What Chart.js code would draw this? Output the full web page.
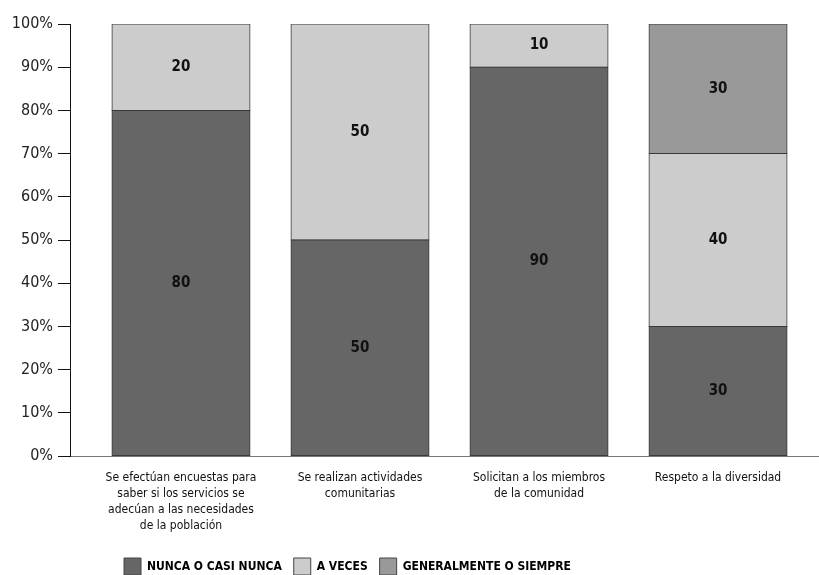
<!DOCTYPE html>
<html>
<head>
<meta charset="utf-8">
<script src="https://cdn.jsdelivr.net/npm/chart.js@4/dist/chart.umd.min.js"></script>
<style>
  html, body { margin: 0; padding: 0; background: #fff; }
  #wrap { position: relative; width: 819px; height: 575px; }
</style>
</head>
<body>
<div id="wrap"><canvas id="chart"></canvas></div>
<script>
// categories (multi-line labels as they appear under each bar)
const categories = [
  ['Se efectúan encuestas para', 'saber si los servicios se', 'adecúan a las necesidades', 'de la población'],
  ['Se realizan actividades', 'comunitarias'],
  ['Solicitan a los miembros', 'de la comunidad'],
  ['Respeto a la diversidad']
];

// series values (%)
const nuncaValues = [80, 50, 90, 30];
const aVecesValues = [20, 50, 10, 40];
const generalmenteValues = [0, 0, 0, 30];

const seriesNames = ['NUNCA O CASI NUNCA', 'A VECES', 'GENERALMENTE O SIEMPRE'];
const yTicks = [0, 10, 20, 30, 40, 50, 60, 70, 80, 90, 100];

const FONT = "'DejaVu Sans Condensed', 'Liberation Sans Narrow', sans-serif";

function toPoints(arr) {
  return arr.map((v, i) => ({ x: i, y: v }));
}

// draws the value in the middle of every segment
const segmentLabels = {
  id: 'segmentLabels',
  afterDatasetsDraw(chart) {
    const ctx = chart.ctx;
    ctx.save();
    ctx.font = 'bold 15px ' + FONT;
    ctx.fillStyle = '#111';
    ctx.textAlign = 'center';
    ctx.textBaseline = 'middle';
    chart.data.datasets.forEach((ds, di) => {
      const meta = chart.getDatasetMeta(di);
      meta.data.forEach((bar, i) => {
        const v = ds.data[i].y;
        if (!v) return;
        ctx.fillText(String(v), bar.x, (bar.y + bar.base) / 2);
      });
    });
    ctx.restore();
  }
};

// legend sits left of centre and a bit lower in the original
const shiftLegend = {
  id: 'shiftLegend',
  afterLayout(chart) {
    const lg = chart.legend;
    lg.left += 112;
    lg.right += 112;
    lg.top += 10;
    lg.bottom += 10;
  }
};

const palette = ['#666666', '#cccccc', '#999999'];

new Chart(document.getElementById('chart'), {
  type: 'bar',
  data: {
    datasets: [nuncaValues, aVecesValues, generalmenteValues].map((vals, k) => ({
      label: seriesNames[k],
      data: toPoints(vals),
      backgroundColor: palette[k],
      borderColor: '#3a3a3a',
      borderWidth: 1,
      borderSkipped: false,
      inflateAmount: 0.5,
      categoryPercentage: 0.771,
      barPercentage: 1
    }))
  },
  options: {
    responsive: true,
    maintainAspectRatio: false,
    animation: false,
    layout: { padding: { top: 24, left: 0, right: 0, bottom: 0 } },
    plugins: {
      tooltip: { enabled: false },
      legend: {
        position: 'bottom',
        align: 'start',
        labels: {
          boxWidth: 17,
          boxHeight: 17,
          padding: 12,
          color: '#111',
          font: { family: FONT, size: 12, weight: 'bold' },
          generateLabels(chart) {
            return chart.data.datasets.map((ds, i) => ({
              text: ds.label,
              fillStyle: ds.backgroundColor,
              strokeStyle: '#444',
              lineWidth: 1,
              datasetIndex: i
            }));
          }
        }
      }
    },
    scales: {
      x: {
        type: 'linear',
        stacked: true,
        offset: false,
        bounds: 'data',
        min: -0.62,
        max: 3.564,
        afterBuildTicks(scale) {
          scale.ticks = categories.map((c, i) => ({ value: i }));
        },
        afterFit(scale) { scale.height = 80; },
        grid: { display: false, offset: false },
        border: { display: true, color: '#777', width: 1 },
        ticks: {
          padding: 6,
          color: '#111',
          font: { family: FONT, size: 12, lineHeight: '16px' },
          maxRotation: 0,
          autoSkip: false,
          callback: (v) => categories[v] || ''
        }
      },
      y: {
        stacked: true,
        min: 0,
        max: 100,
        afterBuildTicks(scale) {
          scale.ticks = yTicks.map(v => ({ value: v }));
        },
        afterFit(scale) { scale.width = 70; },
        grid: {
          drawOnChartArea: false,
          drawTicks: true,
          tickLength: 12,
          color: '#111'
        },
        border: { display: true, color: '#111', width: 1 },
        ticks: {
          padding: 5,
          color: '#222',
          font: { family: FONT, size: 16 },
          callback: (v) => v + '%'
        }
      }
    }
  },
  plugins: [segmentLabels, shiftLegend]
});
</script>
</body>
</html>
